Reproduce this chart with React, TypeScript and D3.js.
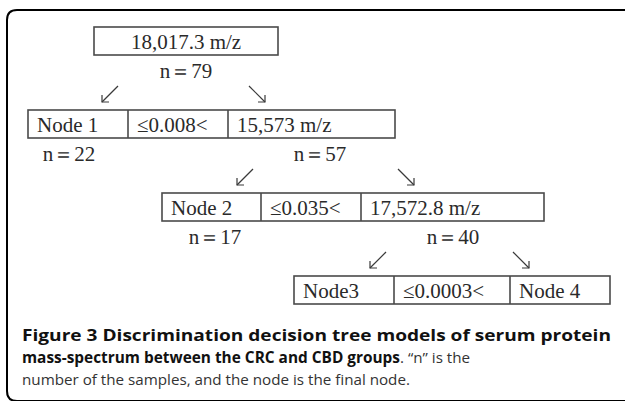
import React from "react";
import { scaleLinear, hierarchy } from "d3";

// split features (m/z) and the sample count reaching each split
const splitFeatures = ["18,017.3 m/z", "15,573 m/z", "17,572.8 m/z"];
const splitN = [79, 57, 40];
// final nodes and their counts
const leafLabels = ["Node 1", "Node 2", "Node3", "Node 4"];
const leafN = [22, 17];
const thresholds = ["≤0.008<", "≤0.035<", "≤0.0003<"];

const captionBold1 = "Figure 3 Discrimination decision tree models of serum protein";
const captionBold2 = "mass-spectrum between the CRC and CBD groups";
const captionRest2 = ". \u201cn\u201d is the";
const captionLine3 = "number of the samples, and the node is the final node.";

// layout (pixels)
const rowLeft = [94, 28, 162, 294];
const cellWidths = [[184], [100, 100, 167], [99, 100, 183], [100, 116, 100]];
const nLabelX = [[186], [69, 320], [215, 453]];
const arrowX = [[110, 257], [245, 406], [378, 521]];
const boxH = 28;

const serif = "'Liberation Serif', 'Times New Roman', serif";
const sans = "'Open Sans', 'Noto Sans', sans-serif";

type TreeNode = { text: string[]; n?: number[]; children?: TreeNode[] };

// build the chain of split rows from the arrays
function buildTree(): TreeNode {
  const rows: TreeNode[] = [{ text: [splitFeatures[0]], n: [splitN[0]] }];
  for (let k = 1; k <= thresholds.length; k++) {
    const right = k < splitFeatures.length ? splitFeatures[k] : leafLabels[leafLabels.length - 1];
    rows.push({
      text: [leafLabels[k - 1], thresholds[k - 1], right],
      n: k < splitN.length ? [leafN[k - 1], splitN[k]] : undefined,
    });
  }
  for (let i = rows.length - 2; i >= 0; i--) rows[i].children = [rows[i + 1]];
  return rows[0];
}

export default function App() {
  const root = hierarchy(buildTree());
  const nodes = root.descendants();
  const y = scaleLinear().domain([0, 3]).range([27, 276]);

  return (
    <svg
      width={625}
      height={401}
      style={{ position: "absolute", left: 0, top: 0, background: "#fff" }}
    >
      <path
        d="M 630 10 H 17 Q 7 10 7 20 V 391 Q 7 401 17 401 H 630"
        fill="none"
        stroke="#000"
        strokeWidth={2}
      />
      {nodes.map((node) => {
        const d = node.depth;
        const top = y(d);
        const widths = cellWidths[d];
        let x0 = rowLeft[d];
        const cells = node.data.text.map((t, i) => {
          const cx = x0;
          x0 += widths[i];
          return { t, cx, w: widths[i] };
        });
        const total = widths.reduce((a, b) => a + b, 0);
        return (
          <g key={d}>
            <rect
              x={rowLeft[d]}
              y={top}
              width={total}
              height={boxH}
              fill="#fff"
              stroke="#4a4a4a"
              strokeWidth={1.6}
            />
            {cells.map((c, i) => (
              <g key={i}>
                {i > 0 && (
                  <line x1={c.cx} x2={c.cx} y1={top} y2={top + boxH} stroke="#4a4a4a" strokeWidth={1.6} />
                )}
                <text
                  x={d === 0 ? c.cx + c.w / 2 : c.cx + 9}
                  y={top + 22}
                  textAnchor={d === 0 ? "middle" : "start"}
                  fontFamily={serif}
                  fontSize={21}
                  fill="#2a2a2a"
                >
                  {c.t}
                </text>
              </g>
            ))}
            {node.data.n &&
              node.data.n.map((n, i) => (
                <text
                  key={"n" + i}
                  x={nLabelX[d][d === 0 ? 0 : i]}
                  y={top + boxH + 23}
                  textAnchor="middle"
                  fontFamily={serif}
                  fontSize={21}
                  fill="#2a2a2a"
                >
                  {"n\uFF1D" + n}
                </text>
              ))}
            {node.children && arrowX[d] && (
              <g stroke="#3a3a3a" strokeWidth={1.2} fill="none">
                {arrowX[d].map((ax, i) => {
                  const y0 = top + boxH + 31;
                  const y1 = y0 + 16;
                  const s = i === 0 ? -1 : 1;
                  const xs = ax - s * 8;
                  const xe = ax + s * 8;
                  return (
                    <g key={i}>
                      <line x1={xs} y1={y0} x2={xe} y2={y1} />
                      <polyline points={`${xe},${y1 - 7} ${xe},${y1} ${xe - s * 7},${y1}`} />
                    </g>
                  );
                })}
              </g>
            )}
          </g>
        );
      })}
      <text
        x={22}
        y={341}
        fontFamily={sans}
        fontSize={16.5}
        fontWeight={700}
        fill="#111"
        textLength={589}
        lengthAdjust="spacingAndGlyphs"
      >
        {captionBold1}
      </text>
      <text x={22} y={363} fontFamily={sans} fontSize={15.4} fill="#333">
        <tspan fontWeight={700} fill="#111">{captionBold2}</tspan>
        <tspan fontSize={15.2}>{captionRest2}</tspan>
      </text>
      <text x={22} y={385} fontFamily={sans} fontSize={15.2} fill="#333">
        {captionLine3}
      </text>
    </svg>
  );
}
